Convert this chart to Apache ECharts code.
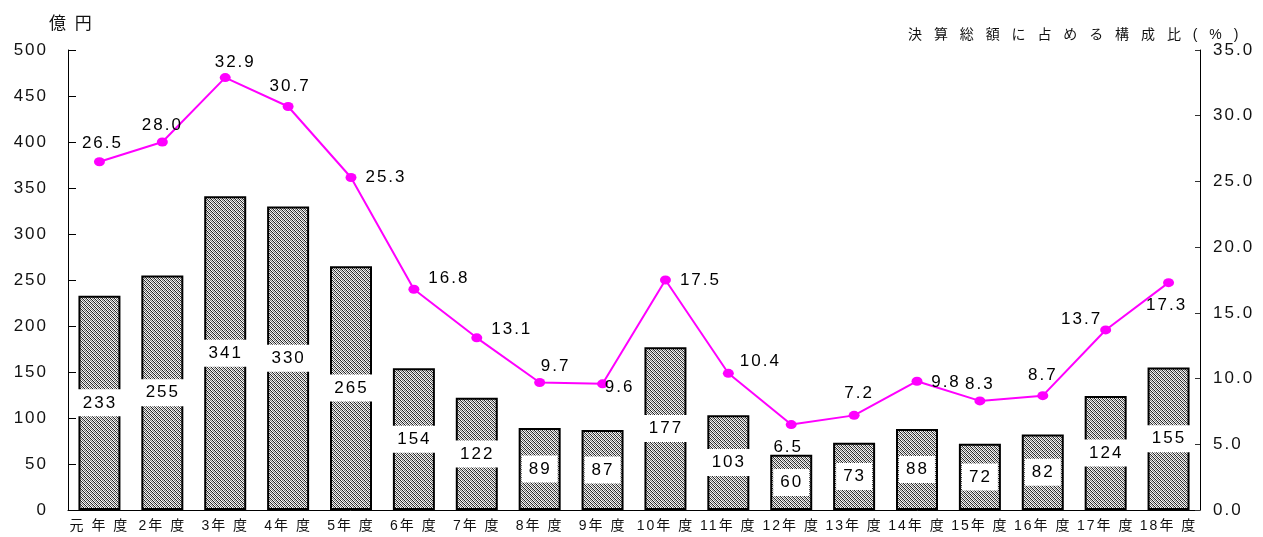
<!DOCTYPE html>
<html>
<head>
<meta charset="utf-8">
<script src="https://cdn.jsdelivr.net/npm/echarts@6/dist/echarts.min.js"></script>
<style>
  html, body { margin: 0; padding: 0; background: #fff; }
  #chart { width: 1263px; height: 537px; }
</style>
</head>
<body>
<div id="chart"></div>
<script>
// 年度別の金額（億円）と決算総額に占める構成比（%）
const categories = ['元 年 度', '2年 度', '3年 度', '4年 度', '5年 度', '6年 度', '7年 度', '8年 度', '9年 度',
  '10年 度', '11年 度', '12年 度', '13年 度', '14年 度', '15年 度', '16年 度', '17年 度', '18年 度'];
const amounts = [233, 255, 341, 330, 265, 154, 122, 89, 87, 177, 103, 60, 73, 88, 72, 82, 124, 155];
const ratios = [26.5, 28.0, 32.9, 30.7, 25.3, 16.8, 13.1, 9.7, 9.6, 17.5, 10.4, 6.5, 7.2, 9.8, 8.3, 8.7, 13.7, 17.3];

const leftTitle = '億 円';
const rightTitle = '決 算 総 額 に 占 め る 構 成 比 ( % )';

// offset of each ratio label from its point
const ratioLabelOffsets = [
  [3, -18], [0, -17], [10, -15], [2, -20], [35, 0], [35, -11], [35, -9], [16, -16], [17, 3],
  [35, 0], [32, -12], [-3, 23], [5, -22], [29, 1], [0, -17], [0, -20], [-24, -11], [-2, 23]
];

// tracked lettering: every label is drawn with a little extra letter spacing
const baseFillText = CanvasRenderingContext2D.prototype.fillText;
CanvasRenderingContext2D.prototype.fillText = function (text, x, y, maxWidth) {
  this.letterSpacing = text === rightTitle ? '4px' : '2px';
  return maxWidth === undefined
    ? baseFillText.call(this, text, x, y)
    : baseFillText.call(this, text, x, y, maxWidth);
};

// fine diagonal hatch used to fill the bars
function hatchPattern() {
  const c = document.createElement('canvas');
  c.width = 8; c.height = 8;
  const ctx = c.getContext('2d');
  const shades = ['#222222', '#ffffff', '#777777', '#dddddd'];
  for (let y = 0; y < 8; y++) {
    for (let x = 0; x < 8; x++) {
      ctx.fillStyle = shades[(x - y + 8) % 4];
      ctx.fillRect(x, y, 1, 1);
    }
  }
  return c;
}

const FONT = "'Liberation Sans', Arial, 'Noto Sans CJK JP', sans-serif";
const chart = echarts.init(document.getElementById('chart'), null, { renderer: 'canvas', devicePixelRatio: 1 });

chart.setOption({
  animation: false,
  backgroundColor: '#fff',
  textStyle: { fontFamily: FONT, color: '#000' },
  title: [
    { text: leftTitle, left: 44, top: 11, textStyle: { fontSize: 17, fontWeight: 'normal', color: '#111', fontFamily: FONT } },
    { text: rightTitle, left: 903, top: 23, textStyle: { fontSize: 14, fontWeight: 'normal', color: '#111', fontFamily: FONT } }
  ],
  grid: { left: 68, right: 63, top: 50, bottom: 27, containLabel: false },
  xAxis: {
    type: 'category',
    data: categories,
    axisLine: { lineStyle: { color: '#000', width: 1 } },
    axisTick: { inside: true, length: 5, lineStyle: { color: '#000' } },
    axisLabel: { fontSize: 14, color: '#111', margin: 9, interval: 0, fontFamily: FONT }
  },
  yAxis: [
    {
      type: 'value', min: 0, max: 500, interval: 50,
      splitLine: { show: false },
      axisLine: { show: true, lineStyle: { color: '#000', width: 1 } },
      axisTick: { show: true, inside: true, length: 8, lineStyle: { color: '#000' } },
      axisLabel: { fontSize: 17, color: '#111', margin: 20, fontFamily: FONT }
    },
    {
      type: 'value', min: 0, max: 35, interval: 5,
      splitLine: { show: false },
      axisLine: { show: true, lineStyle: { color: '#000', width: 1 } },
      axisTick: { show: true, inside: true, length: 5, lineStyle: { color: '#333' } },
      axisLabel: { fontSize: 17, color: '#111', margin: 13, fontFamily: FONT,
        formatter: v => v.toFixed(1) }
    }
  ],
  series: [
    {
      type: 'bar',
      yAxisIndex: 0,
      data: amounts,
      barWidth: 42,
      itemStyle: {
        color: { image: hatchPattern(), repeat: 'repeat' },
        borderColor: '#000',
        borderWidth: 2
      },
      label: {
        show: true,
        position: 'inside',
        fontSize: 17,
        color: '#000',
        fontFamily: FONT,
        backgroundColor: '#fff',
        padding: [5, 8, 5, 9]
      }
    },
    {
      type: 'line',
      yAxisIndex: 1,
      data: ratios.map((v, i) => ({
        value: v,
        label: { offset: ratioLabelOffsets[i] }
      })),
      lineStyle: { color: '#ff00ff', width: 2 },
      itemStyle: { color: '#ff00ff' },
      symbol: 'circle',
      symbolSize: [11, 9],
      label: {
        show: true,
        position: 'inside',
        fontSize: 17,
        color: '#000',
        fontFamily: FONT,
        formatter: p => p.value.toFixed(1)
      },
      z: 5
    }
  ]
});
</script>
</body>
</html>
